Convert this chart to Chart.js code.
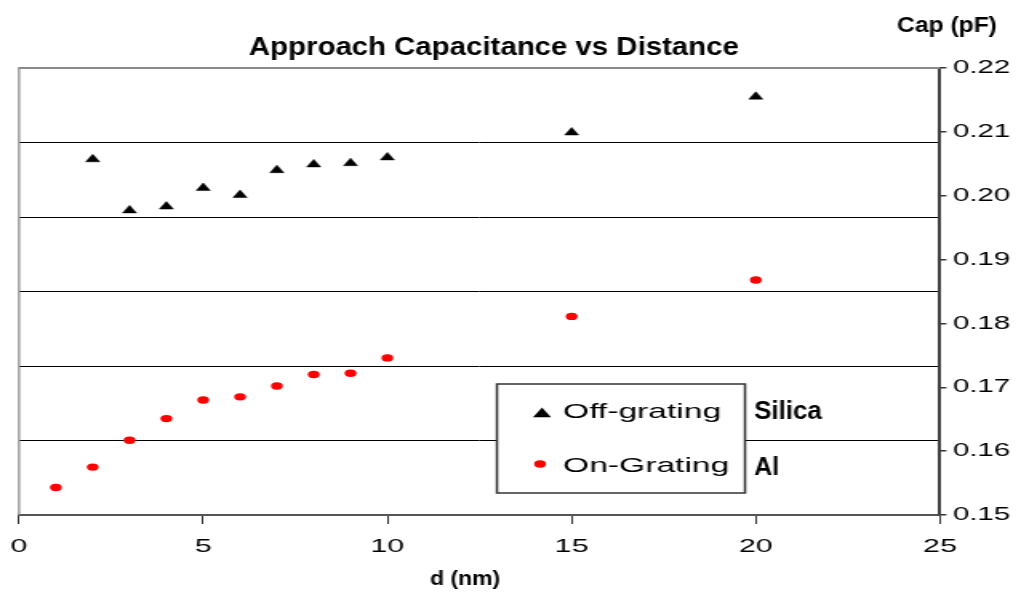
<!DOCTYPE html>
<html>
<head>
<meta charset="utf-8">
<title>Approach Capacitance vs Distance</title>
<script src="https://cdn.jsdelivr.net/npm/chart.js@4.4.1/dist/chart.umd.min.js"></script>
<style>
  html, body { margin: 0; padding: 0; background: #fff; overflow: hidden; }
  #wrap { width: 643px; height: 594px; transform-origin: 0 0; }
</style>
</head>
<body>
<div id="wrap"><canvas id="capchart" width="643" height="594"></canvas></div>
<script>
// distances (nm)
const offGratingD = [2, 3, 4, 5, 6, 7, 8, 9, 10, 15, 20];
const onGratingD = [1, 2, 3, 4, 5, 6, 7, 8, 9, 10, 15, 20];
// capacitance (pF)
const offGrating = [0.2057, 0.1977, 0.1983, 0.2012, 0.2001, 0.2040, 0.2049, 0.2051, 0.2060, 0.2099, 0.2155];
const onGrating = [0.1543, 0.1575, 0.1617, 0.1651, 0.1680, 0.1685, 0.1702, 0.1720, 0.1722, 0.1746, 0.1811, 0.1868];
// axis ticks
const xTicks = [0, 5, 10, 15, 20, 25];
const yTicks = [0.15, 0.16, 0.17, 0.18, 0.19, 0.20, 0.21, 0.22];
const gridBands = 6;

const FONT = "'Liberation Sans', Arial, sans-serif";
const W = 643;
const S = 1029 / W;   // the drawing is widened to the window
document.getElementById('wrap').style.transform = 'scaleX(' + S + ')';

const toPoints = (xs, ys) => xs.map((x, i) => ({ x: x, y: ys[i] }));
const setTicks = list => scale => { scale.ticks = list.map(v => ({ value: v })); };

// grey frame on top/left, legend box and free text
const extras = {
  id: 'extras',
  afterDatasetsDraw(chart) {
    const ctx = chart.ctx;
    const a = chart.chartArea;
    ctx.save();
    ctx.strokeStyle = '#8a8a8a';
    ctx.lineWidth = 2 / S;
    ctx.beginPath();
    ctx.moveTo(a.left, a.top - 1);
    ctx.lineTo(a.left, a.bottom);
    ctx.stroke();
    ctx.lineWidth = 2;
    ctx.beginPath();
    ctx.moveTo(a.left, a.top);
    ctx.lineTo(a.right, a.top);
    ctx.stroke();

    // legend
    const bx = 497 / S, by = 384, bw = 248 / S, bh = 109;
    ctx.fillStyle = '#fff';
    ctx.fillRect(bx, by, bw, bh);
    ctx.strokeStyle = '#333';
    ctx.lineWidth = 1.5;
    ctx.strokeRect(bx, by, bw, bh);
    const rows = [{ mx: 542, my: 414, ty: 418 }, { mx: 540, my: 464, ty: 472 }];
    chart.data.datasets.forEach((ds, i) => {
      const r = rows[i];
      ctx.fillStyle = ds.backgroundColor;
      ctx.strokeStyle = ds.borderColor;
      Chart.helpers.drawPoint(ctx, {
        pointStyle: ds.pointStyle, radius: ds.pointRadius, rotation: 0, borderWidth: ds.borderWidth
      }, r.mx / S, r.my);
      ctx.fillStyle = '#000';
      ctx.font = '21px ' + FONT;
      ctx.textBaseline = 'alphabetic';
      ctx.textAlign = 'left';
      ctx.fillText(ds.label, 563 / S, r.ty);
    });
    ctx.restore();
  },
  afterDraw(chart, args, opts) {
    const ctx = chart.ctx;
    ctx.save();
    ctx.fillStyle = '#000';
    ctx.textBaseline = 'alphabetic';
    ctx.textAlign = 'left';
    opts.notes.forEach(n => {
      ctx.save();
      ctx.translate(n.x / S, n.y);
      ctx.scale(n.sx / S, 1);
      ctx.font = 'bold ' + n.size + 'px ' + FONT;
      ctx.fillText(n.text, 0, 0);
      ctx.restore();
    });
    ctx.restore();
  }
};

new Chart(document.getElementById('capchart'), {
  type: 'scatter',
  data: {
    datasets: [
      {
        label: 'Off-grating',
        data: toPoints(offGratingD, offGrating),
        yAxisID: 'y',
        pointStyle: 'triangle',
        pointRadius: 5,
        backgroundColor: '#000',
        borderColor: '#000',
        borderWidth: 0.5
      },
      {
        label: 'On-Grating',
        data: toPoints(onGratingD, onGrating),
        yAxisID: 'y',
        pointStyle: 'circle',
        pointRadius: 3.7,
        backgroundColor: '#ff0000',
        borderColor: '#ff0000',
        borderWidth: 0
      }
    ]
  },
  options: {
    responsive: false,
    animation: false,
    devicePixelRatio: 1,
    events: [],
    layout: { padding: { top: 68, left: 19 / S, right: 0, bottom: 0 } },
    plugins: {
      legend: { display: false },
      tooltip: { enabled: false },
      extras: {
        notes: [
          { text: 'Approach Capacitance vs Distance', x: 249, y: 55, size: 25, sx: 1.175 },
          { text: 'Cap (pF)', x: 897, y: 32, size: 22, sx: 1.12 },
          { text: 'd (nm)', x: 430, y: 585, size: 20, sx: 1.15 },
          { text: 'Silica', x: 754, y: 419, size: 25, sx: 1.04 },
          { text: 'Al', x: 754, y: 475, size: 25, sx: 1.0 }
        ]
      }
    },
    scales: {
      x: {
        type: 'linear',
        position: 'bottom',
        min: 0,
        max: 25,
        afterBuildTicks: setTicks(xTicks),
        afterFit: s => { s.height = 594 - 515; s.paddingLeft = 0; s.paddingRight = 0; },
        grid: { drawOnChartArea: false, tickLength: 9, color: '#333', lineWidth: 1 },
        border: { color: '#555', width: 2 },
        ticks: { font: { family: FONT, size: 19 }, color: '#000', padding: 11, maxRotation: 0, autoSkip: false }
      },
      bands: {
        type: 'linear',
        position: 'left',
        min: 0,
        max: gridBands,
        afterBuildTicks: s => { s.ticks = Array.from({ length: gridBands + 1 }, (_, i) => ({ value: i })); },
        afterFit: s => { s.width = 0; s.paddingTop = 0; s.paddingBottom = 0; },
        ticks: { display: false },
        border: { display: false },
        grid: {
          drawTicks: false,
          lineWidth: 1,
          color: c => (c.tick.value > 0 && c.tick.value < gridBands) ? '#000' : 'rgba(0,0,0,0)'
        }
      },
      y: {
        type: 'linear',
        position: 'right',
        min: 0.15,
        max: 0.22,
        afterBuildTicks: setTicks(yTicks),
        afterFit: s => { s.width = W - 940 / S; s.paddingTop = 0; s.paddingBottom = 0; },
        grid: { drawOnChartArea: false, tickLength: 4, color: '#333', lineWidth: 1.5 },
        border: { color: '#404040', width: 2 },
        ticks: {
          callback: v => v.toFixed(2),
          font: { family: FONT, size: 18.5 },
          color: '#000',
          padding: 4,
          autoSkip: false
        }
      }
    }
  },
  plugins: [extras]
});
</script>
</body>
</html>
